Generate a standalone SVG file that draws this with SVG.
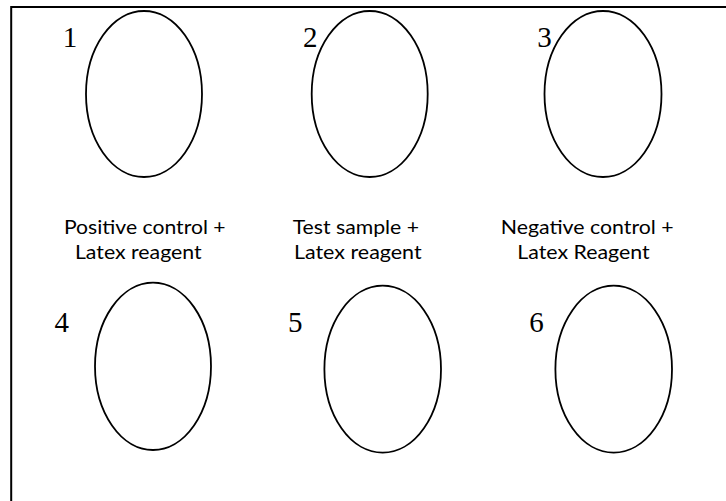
<svg xmlns="http://www.w3.org/2000/svg" width="726" height="501" viewBox="0 0 726 501">
<style>
.well{fill:none;stroke:#000;stroke-width:1.8}
.num{font-family:"Liberation Serif","Times New Roman",serif;font-size:29px;fill:#000;text-anchor:middle}
.lbl{font-family:Lato,"Liberation Sans",sans-serif;font-size:20px;fill:#000;text-anchor:middle}
</style>
<rect width="726" height="501" fill="#fff"/>
<path d="M11.2,501 V7 H726" fill="none" stroke="#000" stroke-width="2"/>
<g id="well1"><ellipse class="well" cx="144" cy="94" rx="58" ry="83"/><text class="num" x="70" y="46.7">1</text></g>
<g id="well2"><ellipse class="well" cx="369.7" cy="94" rx="58" ry="83"/><text class="num" x="310.3" y="46.7">2</text></g>
<g id="well3"><ellipse class="well" cx="603" cy="94" rx="58.5" ry="83"/><text class="num" x="544.5" y="46.7">3</text></g>
<g id="well4"><ellipse class="well" cx="153" cy="366.3" rx="58" ry="83.7"/><text class="num" x="61.7" y="331.7">4</text></g>
<g id="well5"><ellipse class="well" cx="382.7" cy="369.2" rx="58.3" ry="83.5"/><text class="num" x="295.2" y="331.7">5</text></g>
<g id="well6"><ellipse class="well" cx="613.7" cy="369.2" rx="58.3" ry="83.5"/><text class="num" x="536.4" y="331.7">6</text></g>
<g id="label1">
<text class="lbl" x="144.8" y="234.3" textLength="161.7" lengthAdjust="spacingAndGlyphs">Positive control +</text>
<text class="lbl" x="138.3" y="259.3" textLength="126.7" lengthAdjust="spacingAndGlyphs">Latex reagent</text>
</g>
<g id="label2">
<text class="lbl" x="355.8" y="234.3" textLength="126.3" lengthAdjust="spacingAndGlyphs">Test sample +</text>
<text class="lbl" x="357.8" y="259.3" textLength="127.7" lengthAdjust="spacingAndGlyphs">Latex reagent</text>
</g>
<g id="label3">
<text class="lbl" x="587.2" y="234.3" textLength="173" lengthAdjust="spacingAndGlyphs">Negative control +</text>
<text class="lbl" x="583.5" y="259.3" textLength="132.3" lengthAdjust="spacingAndGlyphs">Latex Reagent</text>
</g>
<g id="connectors"></g>
</svg>
